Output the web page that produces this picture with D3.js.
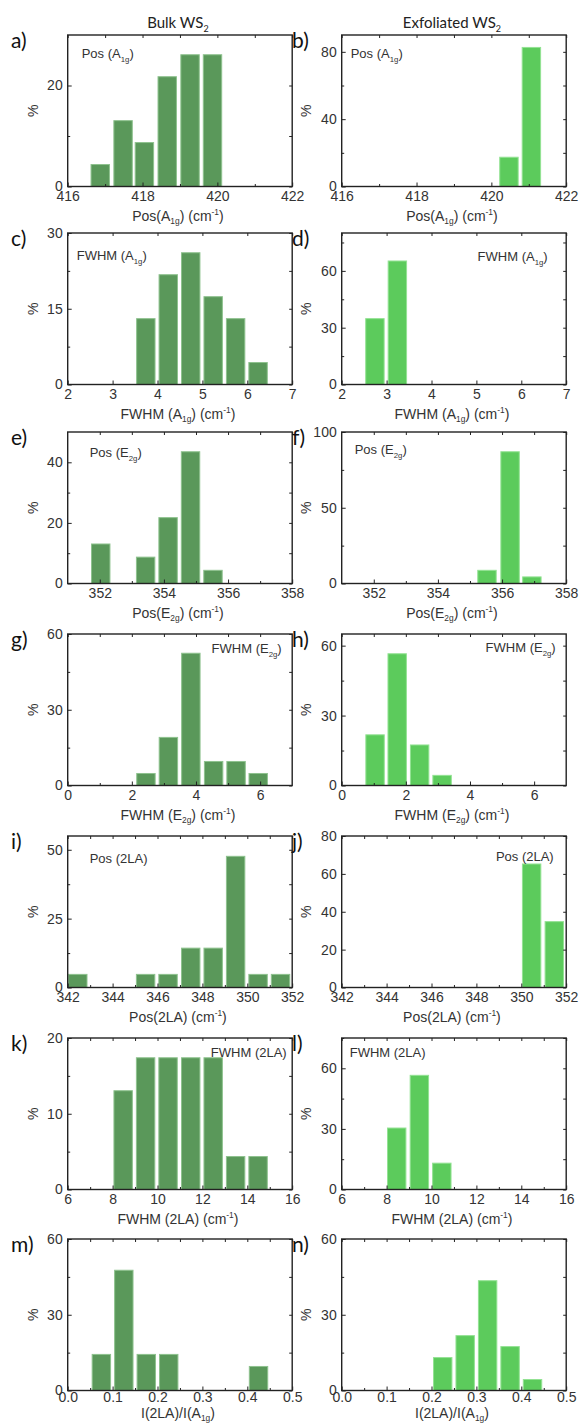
<!DOCTYPE html>
<html>
<head>
<meta charset="utf-8">
<script src="https://cdn.jsdelivr.net/npm/d3@7"></script>
<style>
  body { margin: 0; background: #fff; }
  text { font-family: "Liberation Sans", Arial, sans-serif; }
</style>
</head>
<body>
<svg id="fig" width="581" height="1423"></svg>
<script>
// bin centres and percentages
const posA1gBulkX = [416.87, 417.48, 418.05, 418.66, 419.27, 419.87];
const posA1gBulkY = [4.35, 13.04, 8.7, 21.74, 26.09, 26.09];
const posA1gExfX = [420.47, 421.07];
const posA1gExfY = [17.39, 82.61];

const fwhmA1gBulkX = [3.74, 4.24, 4.74, 5.24, 5.74, 6.24];
const fwhmA1gBulkY = [13.04, 21.74, 26.09, 17.39, 13.04, 4.35];
const fwhmA1gExfX = [2.74, 3.24];
const fwhmA1gExfY = [34.78, 65.22];

const posE2gBulkX = [352.03, 353.43, 354.13, 354.83, 355.53];
const posE2gBulkY = [13.04, 8.7, 21.74, 43.48, 4.35];
const posE2gExfX = [355.53, 356.25, 356.93];
const posE2gExfY = [8.7, 86.96, 4.35];

const fwhmE2gBulkX = [2.44, 3.14, 3.84, 4.55, 5.25, 5.94];
const fwhmE2gBulkY = [4.76, 19.05, 52.38, 9.52, 9.52, 4.76];
const fwhmE2gExfX = [1.04, 1.73, 2.43, 3.13];
const fwhmE2gExfY = [21.74, 56.52, 17.39, 4.35];

const pos2LABulkX = [342.45, 345.47, 346.47, 347.48, 348.48, 349.48, 350.48, 351.48];
const pos2LABulkY = [4.76, 4.76, 4.76, 14.29, 14.29, 47.62, 4.76, 4.76];
const pos2LAExfX = [350.46, 351.47];
const pos2LAExfY = [65.22, 34.78];

const fwhm2LABulkX = [8.47, 9.47, 10.47, 11.48, 12.48, 13.48, 14.48];
const fwhm2LABulkY = [13.04, 17.39, 17.39, 17.39, 17.39, 4.35, 4.35];
const fwhm2LAExfX = [8.45, 9.46, 10.46];
const fwhm2LAExfY = [30.43, 56.52, 13.04];

const ratioBulkX = [0.075, 0.125, 0.175, 0.225, 0.425];
const ratioBulkY = [14.29, 47.62, 14.29, 14.29, 9.52];
const ratioExfX = [0.225, 0.275, 0.325, 0.375, 0.425];
const ratioExfY = [13.04, 21.74, 43.48, 17.39, 4.35];

// tick labels
const ticksPosA1g = [416, 418, 420, 422];
const ticksFwhmA1g = [2, 3, 4, 5, 6, 7];
const ticksPosE2g = [352, 354, 356, 358];
const ticksFwhmE2g = [0, 2, 4, 6];
const ticksPos2LA = [342, 344, 346, 348, 350, 352];
const ticksFwhm2LA = [6, 8, 10, 12, 14, 16];
const ticksRatio = [0, 0.1, 0.2, 0.3, 0.4, 0.5];

const colTitles = [["Bulk WS", "2"], ["Exfoliated WS", "2"]];
const letters = ["a)", "b)", "c)", "d)", "e)", "f)", "g)", "h)", "i)", "j)", "k)", "l)", "m)", "n)"];

const BULK = "#5a985a", BULK_EDGE = "#8ec28e";
const EXF = "#5ccb5c", EXF_EDGE = "#93e293";

const titlePosA1g = [["Pos(A"], ["1g", "sub"], [") (cm"], ["-1", "sup"], [")"]];
const titleFwhmA1g = [["FWHM (A"], ["1g", "sub"], [") (cm"], ["-1", "sup"], [")"]];
const titlePosE2g = [["Pos(E"], ["2g", "sub"], [") (cm"], ["-1", "sup"], [")"]];
const titleFwhmE2g = [["FWHM (E"], ["2g", "sub"], [") (cm"], ["-1", "sup"], [")"]];
const titlePos2LA = [["Pos(2LA) (cm"], ["-1", "sup"], [")"]];
const titleFwhm2LA = [["FWHM (2LA) (cm"], ["-1", "sup"], [")"]];
const titleRatio = [["I(2LA)/I(A"], ["1g", "sub"], [")"]];

const rows = [
  { top: 35, x: [416, 422], bw: 0.6, xt: ticksPosA1g, xm: [417, 419, 421], title: titlePosA1g, fmt: d3.format("d"), ty: 34, pad: 5,
    L: { X: posA1gBulkX, Y: posA1gBulkY, y: [0, 30], yt: [0, 20], ym: [10], tag: [["Pos (A"], ["1g", "sub"], [")"]], tx: 14, ty: 23, anchor: "start" },
    R: { X: posA1gExfX, Y: posA1gExfY, y: [0, 90], yt: [0, 40, 80], ym: [20, 60], tag: [["Pos (A"], ["1g", "sub"], [")"]], tx: 9, ty: 23, anchor: "start" } },
  { top: 233, x: [2, 7], bw: 0.5, xt: ticksFwhmA1g, xm: [], title: titleFwhmA1g, fmt: d3.format("d"), ty: 34, pad: 5,
    L: { X: fwhmA1gBulkX, Y: fwhmA1gBulkY, y: [0, 30], yt: [0, 15, 30], ym: [7.5, 22.5], tag: [["FWHM (A"], ["1g", "sub"], [")"]], tx: 9, ty: 27, anchor: "start" },
    R: { X: fwhmA1gExfX, Y: fwhmA1gExfY, y: [0, 80], yt: [0, 30, 60], ym: [15, 45, 75], tag: [["FWHM (A"], ["1g", "sub"], [")"]], tx: 206, ty: 28, anchor: "end" } },
  { top: 432, x: [351, 358], bw: 0.7, xt: ticksPosE2g, xm: [353, 355, 357], title: titlePosE2g, fmt: d3.format("d"), ty: 34, pad: 5,
    L: { X: posE2gBulkX, Y: posE2gBulkY, y: [0, 50], yt: [0, 20, 40], ym: [10, 30], tag: [["Pos (E"], ["2g", "sub"], [")"]], tx: 22, ty: 25, anchor: "start" },
    R: { X: posE2gExfX, Y: posE2gExfY, y: [0, 100], yt: [0, 50, 100], ym: [25, 75], tag: [["Pos (E"], ["2g", "sub"], [")"]], tx: 13, ty: 22, anchor: "start" } },
  { top: 634, x: [0, 7], bw: 0.7, xt: ticksFwhmE2g, xm: [1, 3, 5], title: titleFwhmE2g, fmt: d3.format("d"), ty: 34, pad: 5,
    L: { X: fwhmE2gBulkX, Y: fwhmE2gBulkY, y: [0, 60], yt: [0, 30, 60], ym: [15, 45], tag: [["FWHM (E"], ["2g", "sub"], [")"]], tx: 214, ty: 19, anchor: "end" },
    R: { X: fwhmE2gExfX, Y: fwhmE2gExfY, y: [0, 65], yt: [0, 30, 60], ym: [15, 45], tag: [["FWHM (E"], ["2g", "sub"], [")"]], tx: 214, ty: 18, anchor: "end" } },
  { top: 836, x: [342, 352], bw: 1, xt: ticksPos2LA, xm: [343, 345, 347, 349, 351], title: titlePos2LA, fmt: d3.format("d"), ty: 34, pad: 5,
    L: { X: pos2LABulkX, Y: pos2LABulkY, y: [0, 55], yt: [0, 25, 50], ym: [12.5, 37.5], tag: [["Pos (2LA)"]], tx: 22, ty: 27, anchor: "start" },
    R: { X: pos2LAExfX, Y: pos2LAExfY, y: [0, 80], yt: [0, 20, 40, 60, 80], ym: [], tag: [["Pos (2LA)"]], tx: 212, ty: 25, anchor: "end" } },
  { top: 1038, x: [6, 16], bw: 1, xt: ticksFwhm2LA, xm: [7, 9, 11, 13, 15], title: titleFwhm2LA, fmt: d3.format("d"), ty: 34, pad: 5,
    L: { X: fwhm2LABulkX, Y: fwhm2LABulkY, y: [0, 20], yt: [0, 10, 20], ym: [5, 15], tag: [["FWHM (2LA)"]], tx: 219, ty: 19, anchor: "end" },
    R: { X: fwhm2LAExfX, Y: fwhm2LAExfY, y: [0, 75], yt: [0, 30, 60], ym: [15, 45, 75], tag: [["FWHM (2LA)"]], tx: 8, ty: 19, anchor: "start" } },
  { top: 1239, x: [0, 0.5], bw: 0.05, xt: ticksRatio, xm: [0.05, 0.15, 0.25, 0.35, 0.45], title: titleRatio, fmt: d3.format(".1f"), ty: 27, pad: 2,
    L: { X: ratioBulkX, Y: ratioBulkY, y: [0, 60], yt: [0, 30, 60], ym: [15, 45], tag: null },
    R: { X: ratioExfX, Y: ratioExfY, y: [0, 60], yt: [0, 30, 60], ym: [15, 45], tag: null } }
];

const W = 224.5, H = 151.5;
const colLeft = [67.7, 341.7];
const svg = d3.select("#fig");

function rich(sel, parts, size) {
  let shift = 0;
  parts.forEach(([t, k]) => {
    const ts = sel.append("tspan").text(t);
    let target = 0;
    if (k === "sub") { target = size * 0.28; ts.attr("font-size", size * 0.6); }
    else if (k === "sup") { target = -size * 0.4; ts.attr("font-size", size * 0.6); }
    if (target !== shift) ts.attr("dy", target - shift);
    shift = target;
  });
}

// column titles
colTitles.forEach((t, i) => {
  const tx = svg.append("text")
    .attr("x", colLeft[i] + W / 2 - 2).attr("y", 28)
    .attr("text-anchor", "middle")
    .style("font-family", "Lato, 'Open Sans', sans-serif")
    .attr("font-size", 15).attr("fill", "#222");
  rich(tx, [[t[0]], [t[1], "sub"]], 15);
});

rows.forEach((row, r) => {
  ["L", "R"].forEach((side, c) => {
    const p = row[side];
    const g = svg.append("g").attr("transform", `translate(${colLeft[c]},${row.top})`);
    const x = d3.scaleLinear().domain(row.x).range([0, W]);
    const y = d3.scaleLinear().domain(p.y).range([H, 0]);

    // bars
    const half = row.bw * 0.41;
    g.selectAll("rect.bar")
      .data(p.X.map((v, i) => ({ c: v, v: p.Y[i] })))
      .join("rect")
      .attr("class", "bar")
      .attr("x", d => x(d.c - half))
      .attr("width", d => x(d.c + half) - x(d.c - half))
      .attr("y", d => y(d.v))
      .attr("height", d => H - y(d.v))
      .attr("fill", c ? EXF : BULK)
      .attr("stroke", c ? EXF_EDGE : BULK_EDGE)
      .attr("stroke-width", 1);

    // axes with inward ticks on all sides
    const styleAxis = s => {
      s.select(".domain").remove();
      s.selectAll("line").attr("stroke", "#222").attr("stroke-width", 1);
      s.selectAll("text").attr("fill", "#333").attr("font-size", 14)
        .style("font-family", "'Liberation Sans', Arial, sans-serif");
    };
    g.append("g").attr("transform", `translate(0,${H})`)
      .call(d3.axisBottom(x).tickValues(row.xt).tickFormat(row.fmt).tickSize(-4).tickPadding(row.pad))
      .call(styleAxis);
    g.append("g").attr("transform", `translate(0,${H})`)
      .call(d3.axisBottom(x).tickValues(row.xm).tickFormat("").tickSize(-2.5))
      .call(styleAxis);
    g.append("g")
      .call(d3.axisTop(x).tickValues(row.xt.concat(row.xm)).tickFormat("").tickSize(-3))
      .call(styleAxis);
    g.append("g")
      .call(d3.axisLeft(y).tickValues(p.yt).tickFormat(d3.format("d")).tickSize(-4).tickPadding(5))
      .call(styleAxis);
    g.append("g")
      .call(d3.axisLeft(y).tickValues(p.ym).tickFormat("").tickSize(-2.5))
      .call(styleAxis);
    g.append("g").attr("transform", `translate(${W},0)`)
      .call(d3.axisRight(y).tickValues(p.yt.concat(p.ym)).tickFormat("").tickSize(-3))
      .call(styleAxis);

    // frame
    g.append("rect").attr("width", W).attr("height", H)
      .attr("fill", "none").attr("stroke", "#222").attr("stroke-width", 1.4);

    // in-plot tag
    if (p.tag) {
      const t = g.append("text").attr("x", p.tx).attr("y", p.ty)
        .attr("text-anchor", p.anchor).attr("font-size", 13).attr("fill", "#333");
      rich(t, p.tag, 13);
    }

    // y label
    g.append("text")
      .attr("transform", `translate(${c ? -31 : -30},${H / 2}) rotate(-90)`)
      .attr("text-anchor", "middle").attr("font-size", 14).attr("fill", "#333")
      .text("%");

    // x title
    const xt = g.append("text").attr("x", W / 2 - 2).attr("y", H + row.ty)
      .attr("text-anchor", "middle").attr("font-size", 14).attr("fill", "#333");
    rich(xt, row.title, 14);

    // panel letter
    svg.append("text")
      .attr("x", c ? 292 : 11).attr("y", row.top + 13)
      .style("font-family", "Lato, 'Open Sans', sans-serif")
      .attr("font-size", 21).attr("fill", "#111")
      .text(letters[r * 2 + c]);
  });
});
</script>
</body>
</html>
